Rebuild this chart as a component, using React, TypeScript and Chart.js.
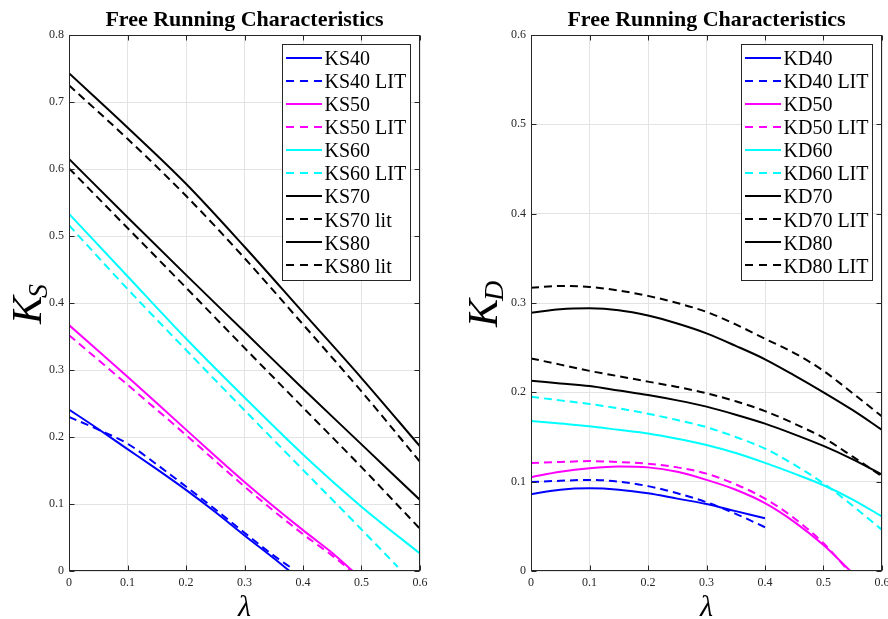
import React, { useEffect, useRef } from "react";
import { Chart, registerables } from "chart.js";

Chart.register(...registerables);

// ---------------- DATA ----------------
const TITLE = "Free Running Characteristics";
const X_LABEL = "λ";

const LAMBDA_TENTH = [0, 0.1, 0.2, 0.3, 0.4, 0.5, 0.6];
const LAMBDA_FULL = [0, 0.05, 0.1, 0.15, 0.2, 0.25, 0.3, 0.35, 0.4, 0.45, 0.5, 0.55, 0.6];

// Left panel: K_S
const KS40_X = [0, 0.05, 0.1, 0.15, 0.2, 0.25, 0.3, 0.35, 0.377];
const KS40_Y = [0.241, 0.212, 0.182, 0.152, 0.121, 0.088, 0.053, 0.019, 0];
const KS40_LIT_X = [0, 0.05, 0.1, 0.15, 0.2, 0.25, 0.3, 0.35, 0.381];
const KS40_LIT_Y = [0.23, 0.211, 0.19, 0.159, 0.126, 0.092, 0.057, 0.023, 0.004];
const KS50_X = [0, 0.1, 0.2, 0.3, 0.4, 0.45, 0.485];
const KS50_Y = [0.367, 0.29, 0.211, 0.133, 0.061, 0.027, 0];
const KS50_LIT_X = [0, 0.1, 0.2, 0.3, 0.4, 0.45, 0.48];
const KS50_LIT_Y = [0.352, 0.278, 0.203, 0.126, 0.055, 0.023, 0.002];
const KS60_Y = [0.533, 0.44, 0.347, 0.259, 0.174, 0.096, 0.026];
const KS60_LIT_X = [0, 0.1, 0.2, 0.3, 0.4, 0.5, 0.562];
const KS60_LIT_Y = [0.516, 0.421, 0.33, 0.24, 0.151, 0.062, 0.006];
const KS70_Y = [0.615, 0.528, 0.442, 0.357, 0.272, 0.189, 0.106];
const KS70_LIT_Y = [0.601, 0.512, 0.423, 0.333, 0.244, 0.155, 0.063];
const KS80_Y = [0.743, 0.662, 0.578, 0.484, 0.386, 0.288, 0.186];
const KS80_LIT_Y = [0.725, 0.645, 0.56, 0.467, 0.368, 0.268, 0.163];

// Right panel: K_D
const KD_SHORT_X = [0, 0.05, 0.1, 0.15, 0.2, 0.25, 0.3, 0.35, 0.4];
const KD40_Y = [0.086, 0.091, 0.0925, 0.091, 0.087, 0.081, 0.075, 0.067, 0.059];
const KD40_LIT_Y = [0.0996, 0.101, 0.102, 0.1, 0.095, 0.087, 0.077, 0.064, 0.049];
const KD50_X = [0, 0.05, 0.1, 0.15, 0.2, 0.25, 0.3, 0.35, 0.4, 0.45, 0.5, 0.546];
const KD50_Y = [0.105, 0.111, 0.115, 0.117, 0.116, 0.111, 0.102, 0.091, 0.076, 0.055, 0.029, 0];
const KD50_LIT_X = [0, 0.05, 0.1, 0.15, 0.2, 0.25, 0.3, 0.35, 0.4, 0.45, 0.5, 0.543];
const KD50_LIT_Y = [0.121, 0.122, 0.123, 0.122, 0.12, 0.116, 0.109, 0.097, 0.081, 0.059, 0.031, 0];
const KD60_Y = [0.168, 0.165, 0.162, 0.158, 0.154, 0.148, 0.141, 0.132, 0.121, 0.109, 0.096, 0.08, 0.061];
const KD60_LIT_Y = [0.195, 0.191, 0.187, 0.182, 0.176, 0.169, 0.161, 0.15, 0.137, 0.119, 0.098, 0.073, 0.046];
const KD70_Y = [0.213, 0.21, 0.207, 0.202, 0.197, 0.191, 0.184, 0.175, 0.165, 0.153, 0.14, 0.125, 0.108];
const KD70_LIT_Y = [0.238, 0.231, 0.224, 0.218, 0.212, 0.206, 0.199, 0.19, 0.179, 0.165, 0.149, 0.128, 0.106];
const KD80_Y = [0.289, 0.293, 0.294, 0.292, 0.286, 0.277, 0.266, 0.252, 0.237, 0.219, 0.2, 0.18, 0.158];
const KD80_LIT_Y = [0.317, 0.319, 0.318, 0.314, 0.308, 0.3, 0.29, 0.276, 0.26, 0.244, 0.224, 0.199, 0.173];

// ---------------- STYLE ----------------
const SERIF = '"Liberation Serif", "Times New Roman", "DejaVu Serif", serif';
const AXIS = "#262626";
const GRID = "#e3e3e3";
const BLUE = "#0000ff";
const MAGENTA = "#ff00ff";
const CYAN = "#00ffff";
const BLACK = "#000000";
const DASH = [8, 5];

function ds(label: string, xs: number[], ys: number[], color: string, dashed: boolean) {
  return {
    label,
    data: xs.map((x, i) => ({ x, y: ys[i] })),
    borderColor: color,
    backgroundColor: color,
    borderWidth: 2,
    borderDash: dashed ? DASH : [],
    pointRadius: 0,
    fill: false,
    cubicInterpolationMode: "monotone" as const,
  };
}

const fmt = (v: any) => String(Math.round(Number(v) * 10) / 10);

const decor = {
  id: "decor",
  afterDraw(chart: any, _args: any, opts: any) {
    const ctx = chart.ctx as CanvasRenderingContext2D;
    const { left, right, top, bottom } = chart.chartArea;
    ctx.save();

    // box
    ctx.strokeStyle = AXIS;
    ctx.lineWidth = 1;
    ctx.setLineDash([]);
    const L = Math.round(left) + 0.5, R = Math.round(right) - 0.5;
    const T = Math.round(top) + 0.5, B = Math.round(bottom) - 0.5;
    ctx.strokeRect(L, T, R - L, B - T);

    // inward ticks
    const xs = chart.scales.x, ys = chart.scales.y;
    ctx.beginPath();
    xs.ticks.forEach((t: any) => {
      const p = Math.round(xs.getPixelForValue(t.value)) + 0.5;
      ctx.moveTo(p, B); ctx.lineTo(p, B - 5);
      ctx.moveTo(p, T); ctx.lineTo(p, T + 5);
    });
    ys.ticks.forEach((t: any) => {
      const p = Math.round(ys.getPixelForValue(t.value)) + 0.5;
      ctx.moveTo(L, p); ctx.lineTo(L + 5, p);
      ctx.moveTo(R, p); ctx.lineTo(R - 5, p);
    });
    ctx.stroke();

    // title
    ctx.fillStyle = "#000";
    ctx.font = `bold 22px ${SERIF}`;
    ctx.textAlign = "center";
    ctx.textBaseline = "middle";
    ctx.fillText(opts.title, (left + right) / 2, 20);

    // x label
    ctx.font = `italic 30px ${SERIF}`;
    ctx.textBaseline = "alphabetic";
    ctx.fillText(opts.xLabel, (left + right) / 2, 616);

    // y label with subscript
    ctx.save();
    ctx.translate(0, (top + bottom) / 2);
    ctx.rotate(-Math.PI / 2);
    ctx.textAlign = "left";
    ctx.font = `italic 42px ${SERIF}`;
    const wK = ctx.measureText(opts.yMain).width;
    ctx.font = `italic 28px ${SERIF}`;
    const wS = ctx.measureText(opts.ySub).width;
    const start = -(wK + wS) / 2;
    ctx.font = `italic 42px ${SERIF}`;
    ctx.fillText(opts.yMain, start, opts.yBase);
    ctx.font = `italic 28px ${SERIF}`;
    ctx.fillText(opts.ySub, start + wK - 2, opts.yBase + 6);
    ctx.restore();

    // legend
    const dsets = chart.data.datasets;
    ctx.font = `20px ${SERIF}`;
    const maxW = Math.max(...dsets.map((d: any) => ctx.measureText(d.label).width));
    const padL = 3.5, lineLen = 36, gap = 2.5, padR = 4.5, rowH = 23.1, padT = 2.5;
    const w = Math.round(padL + lineLen + gap + maxW + padR);
    const h = Math.round(padT * 2 + rowH * dsets.length);
    const bx = Math.round(right - 10 - w) + 0.5;
    const by = Math.round(top + 9) + 0.5;
    ctx.fillStyle = "#fff";
    ctx.fillRect(bx, by, w, h);
    ctx.strokeStyle = AXIS;
    ctx.lineWidth = 1;
    ctx.strokeRect(bx, by, w, h);
    dsets.forEach((d: any, i: number) => {
      const cy = by + padT + rowH * (i + 0.5);
      ctx.strokeStyle = d.borderColor;
      ctx.lineWidth = 2;
      ctx.setLineDash(d.borderDash && d.borderDash.length ? [8, 6] : []);
      ctx.beginPath();
      ctx.moveTo(bx + padL, Math.round(cy) - 1);
      ctx.lineTo(bx + padL + lineLen, Math.round(cy) - 1);
      ctx.stroke();
      ctx.setLineDash([]);
      ctx.fillStyle = "#000";
      ctx.textAlign = "left";
      ctx.textBaseline = "middle";
      ctx.fillText(d.label, bx + padL + lineLen + gap, cy + 1);
    });

    ctx.restore();
  },
};

function makeConfig(datasets: any[], yMax: number, yAxisWidth: number, rightPad: number, decorOpts: any): any {
  const tickFont = { family: SERIF, size: 12 };
  return {
    type: "line",
    data: { datasets },
    options: {
      animation: false,
      responsive: false,
      devicePixelRatio: 1,
      events: [],
      layout: { padding: { left: 0, right: rightPad, top: 35, bottom: 0 } },
      plugins: {
        legend: { display: false },
        title: { display: false },
        tooltip: { enabled: false },
        decor: decorOpts,
      },
      scales: {
        x: {
          type: "linear",
          min: 0,
          max: 0.6,
          ticks: { stepSize: 0.1, padding: 5, font: tickFont, color: AXIS, callback: fmt, maxRotation: 0, autoSkip: false },
          grid: { color: GRID, drawTicks: false, lineWidth: 1 },
          border: { display: false },
          afterFit: (s: any) => { s.height = 48; },
        },
        y: {
          type: "linear",
          min: 0,
          max: yMax,
          ticks: { stepSize: 0.1, padding: 5, font: tickFont, color: AXIS, callback: fmt, autoSkip: false },
          grid: { color: GRID, drawTicks: false, lineWidth: 1 },
          border: { display: false },
          afterFit: (s: any) => { s.width = yAxisWidth; },
        },
      },
    },
    plugins: [decor],
  };
}

const leftDatasets = () => [
  ds("KS40", KS40_X, KS40_Y, BLUE, false),
  ds("KS40 LIT", KS40_LIT_X, KS40_LIT_Y, BLUE, true),
  ds("KS50", KS50_X, KS50_Y, MAGENTA, false),
  ds("KS50 LIT", KS50_LIT_X, KS50_LIT_Y, MAGENTA, true),
  ds("KS60", LAMBDA_TENTH, KS60_Y, CYAN, false),
  ds("KS60 LIT", KS60_LIT_X, KS60_LIT_Y, CYAN, true),
  ds("KS70", LAMBDA_TENTH, KS70_Y, BLACK, false),
  ds("KS70 lit", LAMBDA_TENTH, KS70_LIT_Y, BLACK, true),
  ds("KS80", LAMBDA_TENTH, KS80_Y, BLACK, false),
  ds("KS80 lit", LAMBDA_TENTH, KS80_LIT_Y, BLACK, true),
];

const rightDatasets = () => [
  ds("KD40", KD_SHORT_X, KD40_Y, BLUE, false),
  ds("KD40 LIT", KD_SHORT_X, KD40_LIT_Y, BLUE, true),
  ds("KD50", KD50_X, KD50_Y, MAGENTA, false),
  ds("KD50 LIT", KD50_LIT_X, KD50_LIT_Y, MAGENTA, true),
  ds("KD60", LAMBDA_FULL, KD60_Y, CYAN, false),
  ds("KD60 LIT", LAMBDA_FULL, KD60_LIT_Y, CYAN, true),
  ds("KD70", LAMBDA_FULL, KD70_Y, BLACK, false),
  ds("KD70 LIT", LAMBDA_FULL, KD70_LIT_Y, BLACK, true),
  ds("KD80", LAMBDA_FULL, KD80_Y, BLACK, false),
  ds("KD80 LIT", LAMBDA_FULL, KD80_LIT_Y, BLACK, true),
];

function Panel({ left, width, build }: { left: number; width: number; build: () => any }) {
  const ref = useRef<HTMLCanvasElement>(null);
  useEffect(() => {
    const chart = new Chart(ref.current as HTMLCanvasElement, build());
    return () => chart.destroy();
  }, []);
  return (
    <canvas
      ref={ref}
      width={width}
      height={619}
      style={{ position: "absolute", left, top: 0, width, height: 619, display: "block" }}
    />
  );
}

export default function App() {
  return (
    <div
      style={{
        position: "fixed",
        left: 0,
        top: 0,
        width: 888,
        height: 619,
        overflow: "hidden",
        background: "#fff",
      }}
    >
      <Panel
        left={0}
        width={444}
        build={() =>
          makeConfig(leftDatasets(), 0.8, 69, 24, {
            title: TITLE,
            xLabel: X_LABEL,
            yMain: "K",
            ySub: "S",
            yBase: 41,
          })
        }
      />
      <Panel
        left={444}
        width={460}
        build={() =>
          makeConfig(rightDatasets(), 0.6, 87, 22, {
            title: TITLE,
            xLabel: X_LABEL,
            yMain: "K",
            ySub: "D",
            yBase: 53,
          })
        }
      />
    </div>
  );
}
